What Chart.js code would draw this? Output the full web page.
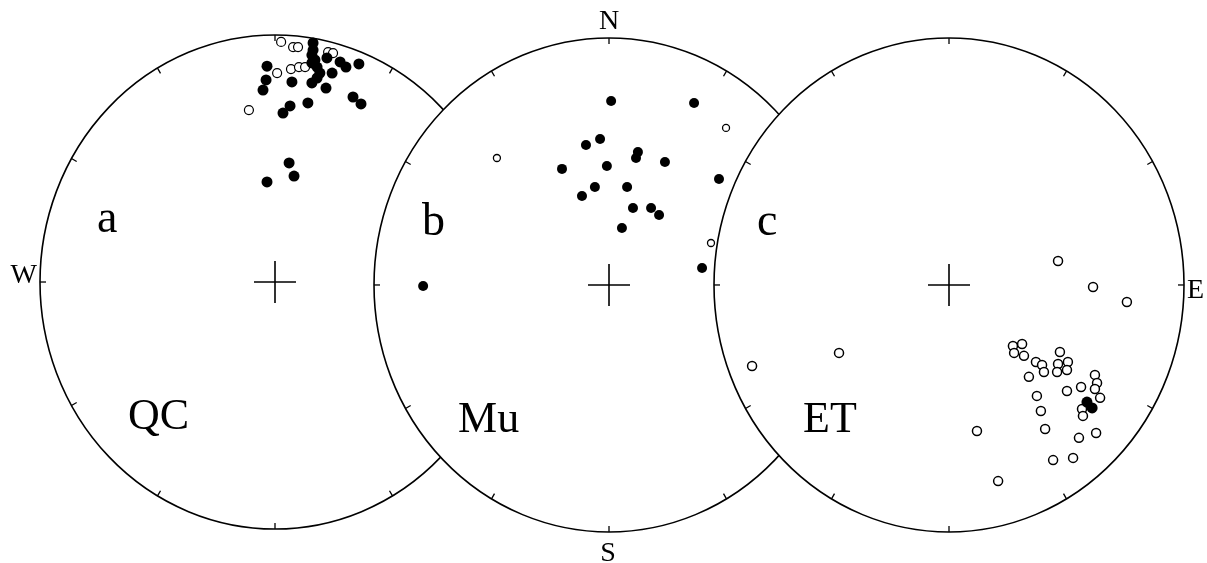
<!DOCTYPE html>
<html>
<head>
<meta charset="utf-8">
<script src="https://cdn.jsdelivr.net/npm/chart.js@4.4.1/dist/chart.umd.min.js"></script>
<style>
  html, body { margin: 0; padding: 0; background: #fff; }
  #wrap { width: 1207px; height: 563px; position: relative; }
</style>
</head>
<body>
<div id="wrap"><canvas id="stereo"></canvas></div>
<script>
// projected positions inside each net (east, north), unit = net radius
const qcOpen = [[0.026,0.972],[0.077,0.951],[0.098,0.951],[0.226,0.931],[0.247,0.927],
  [0.068,0.862],[0.102,0.870],[0.128,0.870],[0.009,0.846],[-0.111,0.696]];
const qcFilled = [[0.162,0.968],[0.162,0.939],[0.157,0.919],[0.170,0.899],[0.179,0.870],
  [0.221,0.907],[0.277,0.891],[0.302,0.870],[0.357,0.883],[-0.034,0.874],[-0.038,0.818],
  [-0.051,0.777],[0.072,0.810],[0.157,0.806],[0.191,0.846],[0.243,0.846],[0.217,0.785],
  [0.179,0.826],[0.157,0.887],[0.140,0.725],[0.064,0.713],[0.034,0.684],[0.332,0.749],
  [0.366,0.721],[0.060,0.482],[0.081,0.429],[-0.034,0.405]];
const muOpen = [[-0.477,0.514],[0.498,0.636],[0.434,0.170]];
const muFilled = [[0.009,0.745],[0.362,0.737],[-0.098,0.567],[-0.038,0.591],[0.123,0.538],
  [0.115,0.514],[0.238,0.498],[-0.200,0.470],[-0.009,0.482],[0.077,0.397],[-0.060,0.397],
  [-0.115,0.360],[0.468,0.429],[0.102,0.312],[0.179,0.312],[0.213,0.283],[0.055,0.231],
  [0.396,0.069],[-0.791,-0.004]];
const etOpen = [[0.464,0.097],[0.613,-0.008],[0.757,-0.069],[0.272,-0.247],[0.311,-0.239],
  [0.277,-0.275],[0.319,-0.287],[0.370,-0.312],[0.396,-0.324],[0.404,-0.352],[0.472,-0.271],
  [0.464,-0.320],[0.506,-0.312],[0.460,-0.352],[0.502,-0.344],[0.340,-0.372],[0.621,-0.364],
  [0.630,-0.397],[0.621,-0.421],[0.562,-0.413],[0.502,-0.429],[0.643,-0.457],[0.374,-0.449],
  [0.391,-0.510],[0.566,-0.502],[0.570,-0.530],[0.409,-0.583],[0.626,-0.599],[0.553,-0.619],
  [0.528,-0.700],[0.443,-0.709],[0.119,-0.591],[0.209,-0.794],[-0.838,-0.328],[-0.468,-0.275]];
const etFilled = [[0.587,-0.474],[0.609,-0.498]];

const netNames = ['QC', 'Mu', 'ET'];
const panelLetters = ['a', 'b', 'c'];
const tickAzimuths = [0, 30, 60, 90, 120, 150, 180, 210, 240, 270, 300, 330];

// net centres in axis units (a, b, c) - drawn a first, c last
const netCentres = [[0, 0.004], [1.4213, -0.008], [2.8681, -0.008]];

const toXY = (pts, c) => pts.map(p => ({ x: c[0] + p[0], y: c[1] + p[1] }));

function filledSet(pts, c, r) {
    return { data: toXY(pts, c), pointRadius: r, pointHoverRadius: r,
        backgroundColor: '#000', borderColor: '#000', borderWidth: 0, showLine: false };
}
function openSet(pts, c, r, w) {
    return { data: toXY(pts, c), pointRadius: r, pointHoverRadius: r,
        backgroundColor: '#fff', borderColor: '#000', borderWidth: w, showLine: false };
}

const netPlugin = {
    id: 'nets',
    beforeDatasetsDraw(chart) {
        const ctx = chart.ctx;
        const xs = chart.scales.x, ys = chart.scales.y;
        ctx.save();
        netCentres.forEach((c, i) => {
            const px = xs.getPixelForValue(c[0]);
            const py = ys.getPixelForValue(c[1]);
            const rx = xs.getPixelForValue(c[0] + 1) - px;
            const ry = py - ys.getPixelForValue(c[1] + 1);
            ctx.beginPath();
            ctx.ellipse(px, py, rx, ry, 0, 0, Math.PI * 2);
            ctx.fillStyle = '#fff';
            ctx.fill();
            ctx.lineWidth = 1.6;
            ctx.strokeStyle = '#000';
            ctx.stroke();
            // ticks
            ctx.lineWidth = 1.3;
            tickAzimuths.forEach(az => {
                const a = az * Math.PI / 180;
                const s = Math.sin(a), co = Math.cos(a);
                ctx.beginPath();
                ctx.moveTo(px + rx * s, py - ry * co);
                ctx.lineTo(px + (rx - 6) * s, py - (ry - 6) * co);
                ctx.stroke();
            });
            // centre cross
            ctx.lineWidth = 1.6;
            ctx.beginPath();
            ctx.moveTo(px - 21, py); ctx.lineTo(px + 21, py);
            ctx.moveTo(px, py - 21); ctx.lineTo(px, py + 21);
            ctx.stroke();
        });
        ctx.restore();
    },
    afterDraw(chart) {
        const ctx = chart.ctx;
        const xs = chart.scales.x, ys = chart.scales.y;
        ctx.save();
        ctx.fillStyle = '#000';
        ctx.textAlign = 'left';
        ctx.textBaseline = 'alphabetic';
        const cen = netCentres.map(c => [xs.getPixelForValue(c[0]), ys.getPixelForValue(c[1])]);
        ctx.font = '46px "Liberation Serif", "Times New Roman", serif';
        panelLetters.forEach((t, i) => {
            const dx = [-178, -187, -192][i];
            ctx.fillText(t, cen[i][0] + dx, cen[i][1] - 50);
        });
        ctx.font = '44px "Liberation Serif", "Times New Roman", serif';
        netNames.forEach((t, i) => {
            const dx = [-147, -151, -146][i];
            ctx.fillText(t, cen[i][0] + dx, cen[i][1] + 147);
        });
        ctx.font = '28px "Liberation Serif", "Times New Roman", serif';
        ctx.textAlign = 'center';
        ctx.fillText('N', cen[1][0], 29);
        ctx.fillText('S', cen[1][0] - 1, 561);
        ctx.textAlign = 'right';
        ctx.fillText('W', cen[0][0] - 238, cen[0][1] + 1);
        ctx.textAlign = 'left';
        ctx.fillText('E', cen[2][0] + 238, cen[2][1] + 13);
        ctx.restore();
    }
};

new Chart(document.getElementById('stereo'), {
    type: 'scatter',
    data: {
        datasets: [
            filledSet(etFilled, netCentres[2], 5.5),
            openSet(etOpen, netCentres[2], 4.5, 1.5),
            filledSet(muFilled, netCentres[1], 5),
            openSet(muOpen, netCentres[1], 3.5, 1.3),
            filledSet(qcFilled, netCentres[0], 5.5),
            openSet(qcOpen, netCentres[0], 4.5, 1.2)
        ]
    },
    options: {
        responsive: true,
        maintainAspectRatio: false,
        animation: false,
        layout: { padding: 0, autoPadding: false },
        plugins: { legend: { display: false }, tooltip: { enabled: false } },
        scales: {
            x: { type: 'linear', display: false, min: -1.17021, max: 3.96596 },
            y: { type: 'linear', display: false, min: -1.13360, max: 1.14575 }
        }
    },
    plugins: [netPlugin]
});
</script>
</body>
</html>
